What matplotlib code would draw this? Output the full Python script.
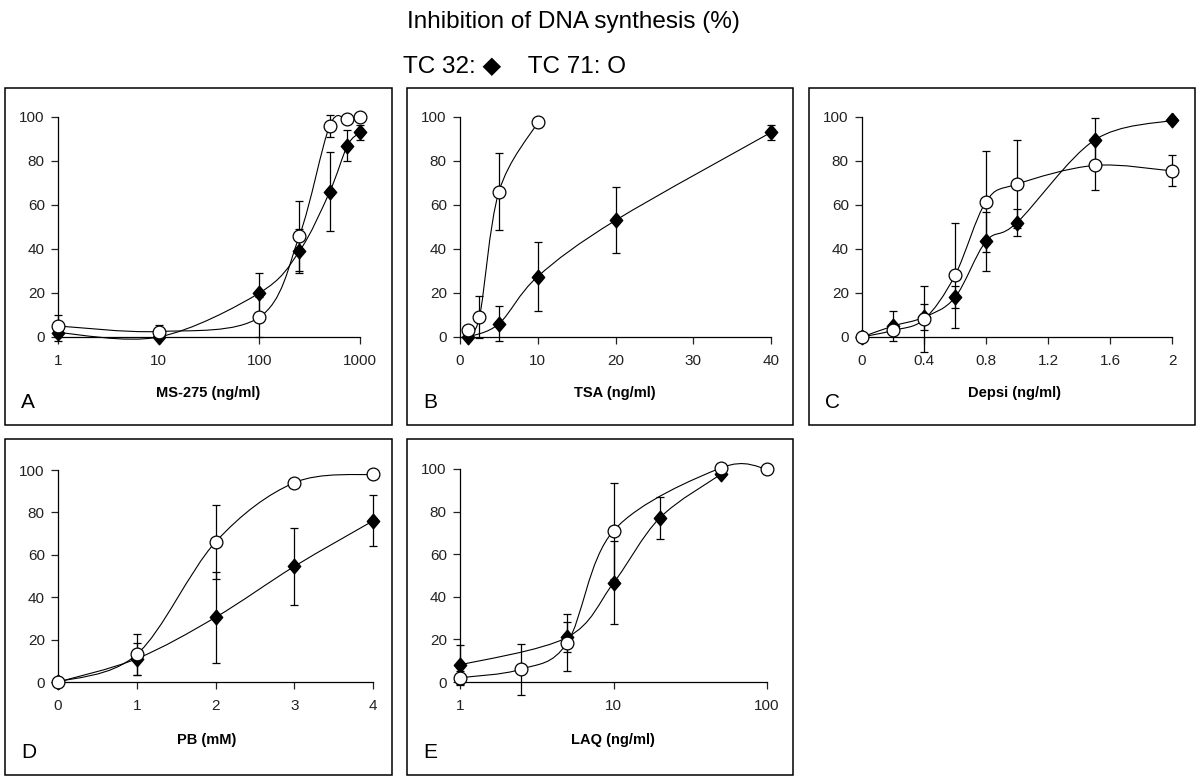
import numpy as np
import matplotlib
matplotlib.use("Agg")
import matplotlib.pyplot as plt
from matplotlib.path import Path
from matplotlib.patches import PathPatch, Rectangle
from matplotlib.ticker import NullLocator

plt.rcParams["font.family"] = ["Liberation Sans", "DejaVu Sans"]

# ── Data ──────────────────────────────────────────────────────────────────────
# A: MS-275 (ng/ml), log axis
a_x = [1, 10, 100, 250, 500, 750, 1000]
a_tc32 = [2, 0, 20, 39, 66, 87, 93]
a_tc32_err = [4, 1, 9, 10, 18, 7, 3.5]
a_tc71 = [5, 2.5, 9, 46, 96, 99, 100]
a_tc71_err = [5, 3, 9, 16, 5, 0, 0]

# B: TSA (ng/ml)
b_x32 = [1, 5, 10, 20, 40]
b_tc32 = [0, 6, 27.5, 53, 93]
b_tc32_err = [1, 8, 15.5, 15, 3.5]
b_x71 = [1, 2.5, 5, 10]
b_tc71 = [3, 9, 66, 97.5]
b_tc71_err = [2, 9.5, 17.5, 0]

# C: Depsi (ng/ml)
c_x = [0, 0.2, 0.4, 0.6, 0.8, 1.0, 1.5, 2.0]
c_tc32 = [0, 5, 9, 18, 43.5, 52, 89.5, 98.5]
c_tc32_err = [0, 7, 6, 5, 13.5, 6, 10, 0]
c_tc71 = [0, 3, 8, 28, 61.5, 69.5, 78, 75.5]
c_tc71_err = [0, 2, 15, 24, 23, 20, 11, 7]

# D: PB (mM)
d_x = [0, 1, 2, 3, 4]
d_tc32 = [0, 11, 30.5, 54.5, 76]
d_tc32_err = [0, 7.5, 21.5, 18, 12]
d_tc71 = [0, 13, 66, 94, 98]
d_tc71_err = [0, 9.5, 17.5, 0, 0]

# E: LAQ (ng/ml), log axis
e_x32 = [1, 5, 10, 20, 50]
e_tc32 = [8, 21, 46.5, 77, 97.5]
e_tc32_err = [9.5, 7, 19.5, 10, 1]
e_x71 = [1, 2.5, 5, 10, 50, 100]
e_tc71 = [2, 6, 18.5, 71, 100.5, 100]
e_tc71_err = [3, 12, 13.5, 22.5, 0, 0]

y_ticks = [0, 20, 40, 60, 80, 100]

# ── Layout (pixels in a 1200x778 canvas) ──────────────────────────────────────
W, H = 1200, 778


def fig_rect(l, t, r, b):
    return [l / W, 1 - b / H, (r - l) / W, (b - t) / H]


def smooth_path(x, y, logx):
    """Excel-like smoothed line: Catmull-Rom segments as cubic Beziers."""
    u = np.log10(x) if logx else np.asarray(x, float)
    v = np.asarray(y, float)
    n = len(u)
    verts = [(u[0], v[0])]
    codes = [Path.MOVETO]
    for i in range(n - 1):
        p0 = i - 1 if i > 0 else i
        p3 = i + 2 if i + 2 < n else i + 1
        c1 = (u[i] + (u[i + 1] - u[p0]) / 6, v[i] + (v[i + 1] - v[p0]) / 6)
        c2 = (u[i + 1] - (u[p3] - u[i]) / 6, v[i + 1] - (v[p3] - v[i]) / 6)
        verts += [c1, c2, (u[i + 1], v[i + 1])]
        codes += [Path.CURVE4] * 3
    verts = np.array(verts)
    if logx:
        verts[:, 0] = 10 ** verts[:, 0]
    return Path(verts, codes)


DIAMOND = [(0, 1), (0.85, 0), (0, -1), (-0.85, 0), (0, 1)]


def draw_series(ax, x, y, err, logx, filled):
    x = np.asarray(x, float)
    y = np.asarray(y, float)
    err = np.asarray(err, float)
    ax.add_patch(PathPatch(smooth_path(x, y, logx), facecolor="none",
                           edgecolor="black", lw=0.8, clip_on=False, zorder=2))
    m = err > 0
    eb = ax.errorbar(x[m], y[m], yerr=err[m], fmt="none", ecolor="black",
                     elinewidth=0.9, capsize=3.2, capthick=0.9, zorder=2.5)
    for art in eb.lines[1] + eb.lines[2]:
        art.set_clip_on(False)
    if filled:
        ax.plot(x, y, linestyle="none", marker=DIAMOND, ms=10.5,
                mfc="black", mec="black", clip_on=False, zorder=3)
    else:
        ax.plot(x, y, linestyle="none", marker="o", ms=9.2, mfc="white",
                mec="black", mew=0.9, clip_on=False, zorder=4)


panels = [
    dict(letter="A", box=(5, 88, 392, 425), ax=(58, 117, 360, 337),
         xlabel="MS-275 (ng/ml)", label_xy=(208, 393), logx=True,
         xlim=(1, 1000), xticks=[1, 10, 100, 1000],
         xticklabels=["1", "10", "100", "1000"],
         s32=(a_x, a_tc32, a_tc32_err), s71=(a_x, a_tc71, a_tc71_err)),
    dict(letter="B", box=(407, 88, 793, 425), ax=(460, 117, 771, 337),
         xlabel="TSA (ng/ml)", label_xy=(615, 393), logx=False,
         xlim=(0, 40), xticks=[0, 10, 20, 30, 40],
         xticklabels=["0", "10", "20", "30", "40"],
         s32=(b_x32, b_tc32, b_tc32_err), s71=(b_x71, b_tc71, b_tc71_err)),
    dict(letter="C", box=(809, 88, 1195, 425), ax=(862, 117, 1172, 337),
         xlabel="Depsi (ng/ml)", label_xy=(1015, 393), logx=False,
         xlim=(0, 2), xticks=[0, 0.4, 0.8, 1.2, 1.6, 2.0],
         xticklabels=["0", "0.4", "0.8", "1.2", "1.6", "2"],
         s32=(c_x, c_tc32, c_tc32_err), s71=(c_x, c_tc71, c_tc71_err)),
    dict(letter="D", box=(5, 439, 392, 775), ax=(58, 470, 373, 682),
         xlabel="PB (mM)", label_xy=(207, 740), logx=False,
         xlim=(0, 4), xticks=[0, 1, 2, 3, 4],
         xticklabels=["0", "1", "2", "3", "4"],
         s32=(d_x, d_tc32, d_tc32_err), s71=(d_x, d_tc71, d_tc71_err)),
    dict(letter="E", box=(407, 439, 793, 775), ax=(460, 469, 767, 682),
         xlabel="LAQ (ng/ml)", label_xy=(613, 740), logx=True,
         xlim=(1, 100), xticks=[1, 10, 100],
         xticklabels=["1", "10", "100"],
         s32=(e_x32, e_tc32, e_tc32_err), s71=(e_x71, e_tc71, e_tc71_err)),
]

fig = plt.figure(figsize=(W / 100, H / 100), dpi=100)
fig.patch.set_facecolor("white")

for p in panels:
    l, t, r, b = p["box"]
    fig.add_artist(Rectangle((l / W, 1 - b / H), (r - l) / W, (b - t) / H,
                             transform=fig.transFigure, fill=False,
                             edgecolor="black", lw=1.1))

    ax = fig.add_axes(fig_rect(*p["ax"]))
    ax.patch.set_alpha(0)
    if p["logx"]:
        ax.set_xscale("log")
    ax.set_xlim(*p["xlim"])
    ax.set_ylim(0, 100)
    ax.set_xticks(p["xticks"])
    ax.set_xticklabels(p["xticklabels"])
    ax.xaxis.set_minor_locator(NullLocator())
    ax.set_yticks(y_ticks)
    ax.set_yticklabels([str(v) for v in y_ticks])
    for side in ("top", "right"):
        ax.spines[side].set_visible(False)
    for side in ("left", "bottom"):
        ax.spines[side].set_linewidth(0.9)
    ax.tick_params(axis="both", direction="out", length=5, width=0.9,
                   labelsize=11, colors="#222222")
    ax.tick_params(axis="x", pad=7.5)
    ax.tick_params(axis="y", pad=4.5)

    draw_series(ax, *p["s32"], logx=p["logx"], filled=True)
    draw_series(ax, *p["s71"], logx=p["logx"], filled=False)

    lx, ly = p["label_xy"]
    fig.text(lx / W, 1 - ly / H, p["xlabel"], ha="center", va="center",
             fontsize=10.5, fontweight="bold")
    fig.text((l + 16) / W, 1 - (b - 17) / H, p["letter"], ha="left",
             va="baseline", fontsize=15)

fig.text(573 / W, 1 - 22 / H, "Inhibition of DNA synthesis (%)",
         ha="center", va="center", fontsize=17.5)
fig.text(403 / W, 1 - 72 / H, "TC 32: \u25C6    TC 71: O",
         ha="left", va="baseline", fontsize=17.5)

fig.savefig("out.png", dpi=100)
